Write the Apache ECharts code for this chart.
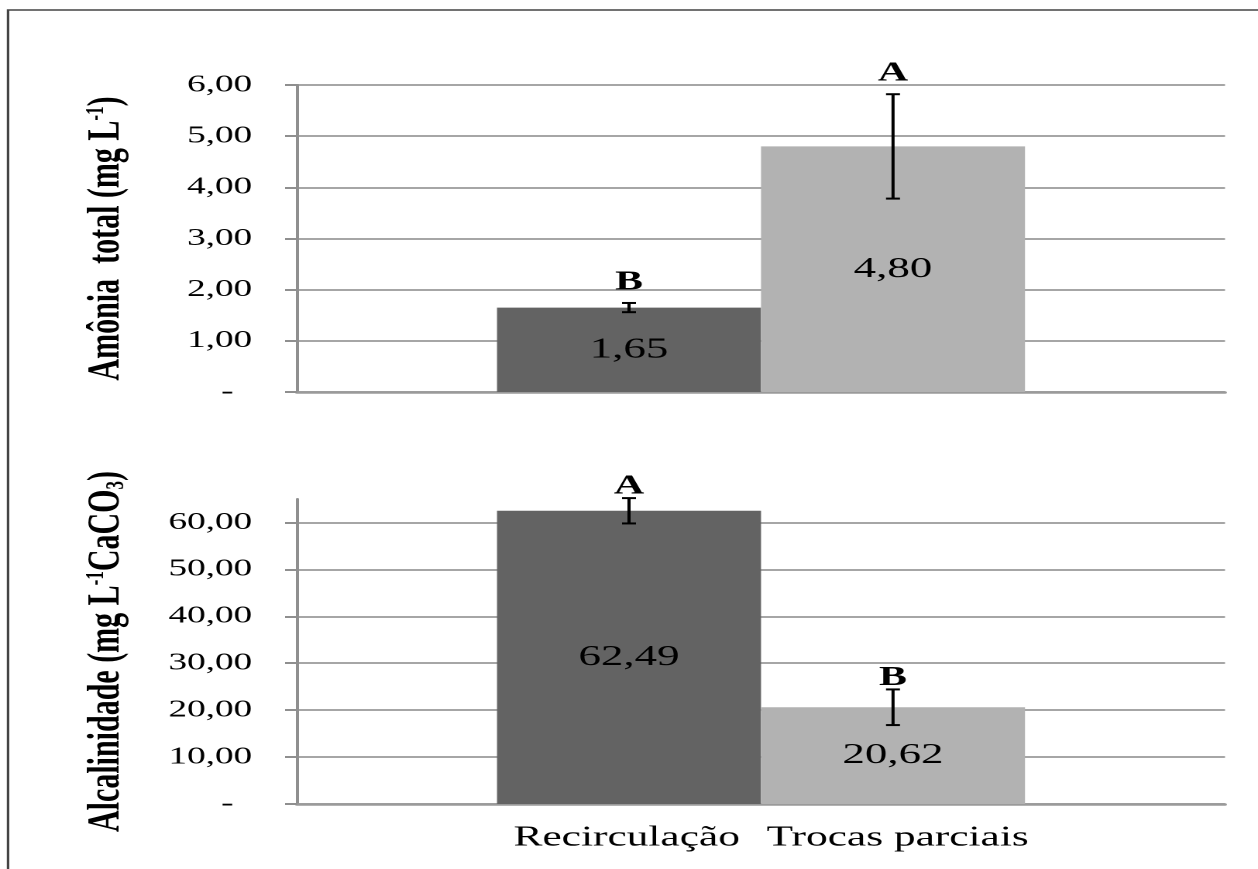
<!DOCTYPE html>
<html>
<head>
<meta charset="utf-8">
<script src="https://cdn.jsdelivr.net/npm/echarts@6/dist/echarts.min.js"></script>
<style>
html,body{margin:0;padding:0;background:#fff;overflow:hidden}
#wrap{width:1258px;height:869px;overflow:hidden;position:relative;background:#fff}
#chart{width:812px;height:869px;transform:scaleX(1.5492611);transform-origin:0 0}
</style>
</head>
<body>
<div id="wrap"><div id="chart"></div></div>
<script>
// ---- data ----
const categories = ['Recirculação', 'Trocas parciais'];
const amoniaValues = [1.65, 4.80];
const amoniaErrors = [0.09, 1.02];
const amoniaLetters = ['B', 'A'];
const alcalinidadeValues = [62.49, 20.62];
const alcalinidadeErrors = [2.7, 3.8];
const alcalinidadeLetters = ['A', 'B'];
const amoniaTicks = [0, 1, 2, 3, 4, 5, 6];
const alcalinidadeTicks = [0, 10, 20, 30, 40, 50, 60];
const barColors = ['#636363', '#b2b2b2'];

// ---- styling ----
const SERIF = "'Liberation Serif', 'Times New Roman', serif";
const BAR_W = 170.4;
const GRID_L = 191.7, GRID_R = 21.3;
const fmt = v => v === 0 ? '-\u2002' : v.toFixed(2).replace('.', ',');

const chart = echarts.init(document.getElementById('chart'), null, {renderer: 'canvas', devicePixelRatio: 2});

function yAxisCfg(gridIndex, max, interval, ticks, name) {
  return {
    type: 'value', gridIndex, min: 0, max, interval,
    axisLine: {show: true, lineStyle: {color: '#8f8f8f', width: 2}},
    axisTick: {show: true, length: 7.7, lineStyle: {color: '#8f8f8f', width: 2}, customValues: ticks},
    axisLabel: {customValues: ticks, formatter: fmt, fontFamily: SERIF, fontSize: 24, color: '#000', margin: 29},
    splitLine: {show: true, lineStyle: {color: '#a6a6a6', width: 2}},
    name, nameLocation: 'middle', nameRotate: 90, nameGap: 108,
    nameTextStyle: {
      fontFamily: SERIF, fontSize: 30, fontWeight: 'bold', color: '#000',
      rich: {
        sup: {fontFamily: SERIF, fontSize: 17, fontWeight: 'bold', color: '#000', verticalAlign: 'top', padding: [0, 0, 12, 0]},
        sub: {fontFamily: SERIF, fontSize: 17, fontWeight: 'bold', color: '#000', verticalAlign: 'bottom', padding: [8, 0, 0, 0]}
      }
    }
  };
}

function xAxisCfg(gridIndex) {
  return {
    type: 'category', gridIndex, data: [''],
    axisLine: {show: true, lineStyle: {color: '#9a9a9a', width: 2.5}},
    axisTick: {show: false}, axisLabel: {show: false}, splitLine: {show: false}
  };
}

function barSeries(gridIndex, values) {
  return categories.map((name, i) => ({
    type: 'bar', name, xAxisIndex: gridIndex, yAxisIndex: gridIndex,
    data: [values[i]], barWidth: BAR_W, barGap: '0%',
    itemStyle: {color: barColors[i]},
    label: {show: true, position: 'inside', formatter: p => fmt(p.value),
      fontFamily: SERIF, fontSize: 29, color: '#000'}
  }));
}

function errorSeries(gridIndex, values, errors, letters, letterGap, withNames) {
  return {
    type: 'custom', xAxisIndex: gridIndex, yAxisIndex: gridIndex, silent: true, z: 5, clip: false,
    data: values.map((v, i) => [0, v - errors[i], v + errors[i]]),
    renderItem(params, api) {
      const i = params.dataIndex;
      const off = (i - (values.length - 1) / 2) * BAR_W;
      const lo = api.coord([0, api.value(1)]);
      const hi = api.coord([0, api.value(2)]);
      const x = lo[0] + off;
      const cap = 4.5;
      const ls = {stroke: '#000', lineWidth: 2};
      const children = [
        {type: 'line', shape: {x1: x, y1: lo[1], x2: x, y2: hi[1]}, style: ls},
        {type: 'line', shape: {x1: x - cap, y1: lo[1], x2: x + cap, y2: lo[1]}, style: ls},
        {type: 'line', shape: {x1: x - cap, y1: hi[1], x2: x + cap, y2: hi[1]}, style: ls},
        {type: 'text', style: {text: letters[i], x, y: hi[1] - letterGap, textAlign: 'center', textVerticalAlign: 'bottom',
          font: 'bold 27px ' + SERIF, fill: '#000'}}
      ];
      if (withNames) {
        const base = api.coord([0, 0]);
        children.push({type: 'text', style: {text: categories[i], x: x + (i === 0 ? -1.5 : 3), y: base[1] + 34, textAlign: 'center', textVerticalAlign: 'middle',
          font: '28px ' + SERIF, fill: '#000'}});
      }
      return {type: 'group', children};
    }
  };
}

const option = {
  backgroundColor: '#fff',
  animation: false,
  grid: [
    {left: GRID_L, right: GRID_R, top: 85, bottom: 477},
    {left: GRID_L, right: GRID_R, top: 499, bottom: 65}
  ],
  xAxis: [xAxisCfg(0), xAxisCfg(1)],
  yAxis: [
    yAxisCfg(0, 6, 1, amoniaTicks, 'Amônia  total (mg L{sup|-1})'),
    yAxisCfg(1, 65, 10, alcalinidadeTicks, 'Alcalinidade (mg L{sup|-1}CaCO{sub|3})')
  ],
  graphic: [{
    type: 'polyline', silent: true,
    shape: {points: [[5.2, 900], [5.2, 10], [820, 10]]},
    style: {stroke: '#444', lineWidth: 1.6, fill: null}
  }],
  series: [
    ...barSeries(0, amoniaValues),
    ...barSeries(1, alcalinidadeValues),
    errorSeries(0, amoniaValues, amoniaErrors, amoniaLetters, 7, false),
    errorSeries(1, alcalinidadeValues, alcalinidadeErrors, alcalinidadeLetters, -2, true)
  ]
};
chart.setOption(option);
</script>
</body>
</html>
